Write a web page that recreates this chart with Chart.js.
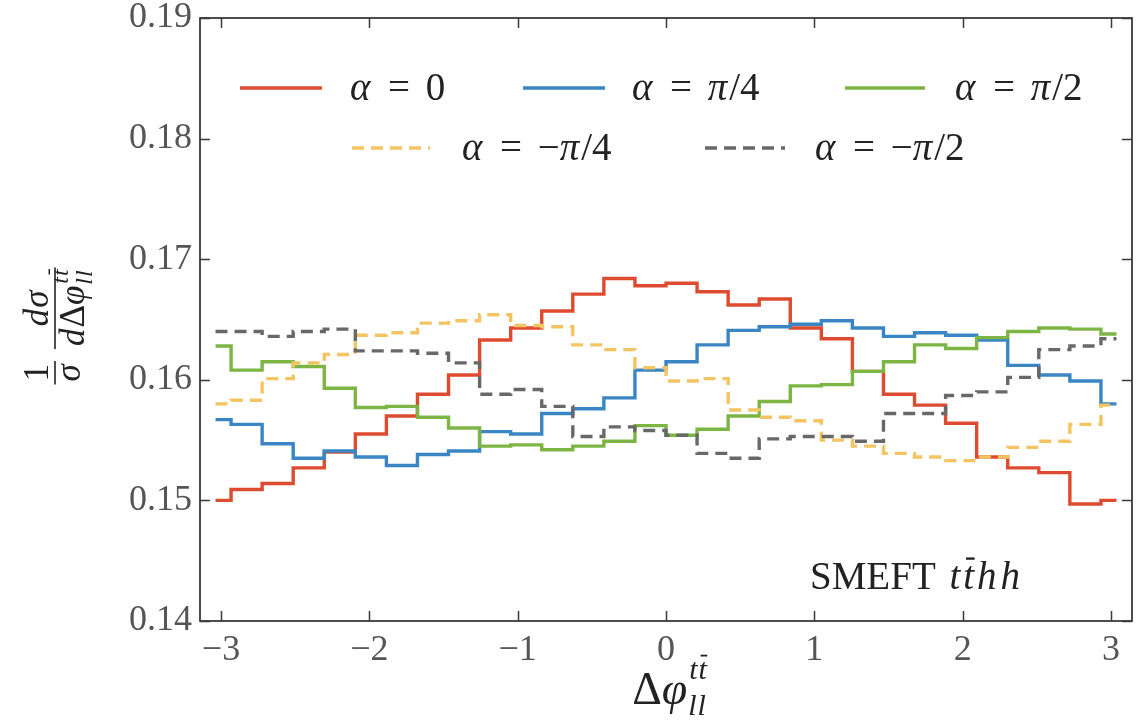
<!DOCTYPE html>
<html><head><meta charset="utf-8">
<script src="https://cdn.jsdelivr.net/npm/chart.js@4.4.0/dist/chart.umd.min.js"></script>
<style>html,body{margin:0;padding:0;background:#fff}#wrap{width:1148px;height:725px}</style>
</head><body><div id="wrap"><canvas id="c" width="1148" height="725"></canvas></div>
<script>
// bin centres of 30 bins in [-pi, pi]
const binCenters = [-3.0369,-2.8274,-2.6180,-2.4086,-2.1991,-1.9897,-1.7802,-1.5708,-1.3614,-1.1519,
  -0.9425,-0.7330,-0.5236,-0.3142,-0.1047,0.1047,0.3142,0.5236,0.7330,0.9425,
  1.1519,1.3614,1.5708,1.7802,1.9897,2.1991,2.4086,2.6180,2.8274,3.0369];
const xTickValues = [-3,-2,-1,0,1,2,3];
const xTickLabels = ['\u22123','\u22122','\u22121','0','1','2','3'];
const yTickValues = [0.14,0.15,0.16,0.17,0.18,0.19];
const yTickLabels = ['0.14','0.15','0.16','0.17','0.18','0.19'];
const seriesLabels = ['\u03b1 = 0','\u03b1 = \u03c0/4','\u03b1 = \u03c0/2','\u03b1 = \u2212\u03c0/4','\u03b1 = \u2212\u03c0/2'];
const alpha0 = [0.1500,0.1509,0.1514,0.1527,0.1540,0.1555,0.1570,0.1588,0.1604,0.1633,0.1643,0.1657,0.1671,0.1684,0.1678,0.1680,0.1673,0.1662,0.1667,0.1643,0.1634,0.1607,0.1588,0.1579,0.1564,0.1536,0.1527,0.1523,0.1497,0.1500];
const alphaPi4 = [0.1567,0.1563,0.1547,0.1535,0.1541,0.1536,0.1529,0.1538,0.1541,0.1557,0.1555,0.1572,0.1576,0.1585,0.1608,0.1615,0.1629,0.1641,0.1644,0.1646,0.1649,0.1643,0.1636,0.1639,0.1637,0.1633,0.1612,0.1604,0.1599,0.1580];
const alphaPi2 = [0.1628,0.1608,0.1615,0.1611,0.1593,0.1577,0.1578,0.1569,0.1560,0.1545,0.1546,0.1542,0.1545,0.1549,0.1562,0.1554,0.1559,0.1570,0.1582,0.1595,0.1596,0.1607,0.1615,0.1629,0.1626,0.1635,0.1640,0.1643,0.1642,0.1638];
const alphaMPi4 = [0.1580,0.1583,0.1601,0.1614,0.1621,0.1637,0.1639,0.1647,0.1649,0.1654,0.1645,0.1644,0.1629,0.1625,0.1610,0.1599,0.1601,0.1575,0.1569,0.1566,0.1550,0.1545,0.1539,0.1536,0.1533,0.1536,0.1544,0.1549,0.1563,0.1579];
const alphaMPi2 = [0.1640,0.1640,0.1636,0.1640,0.1642,0.1624,0.1624,0.1622,0.1614,0.1588,0.1592,0.1578,0.1553,0.1561,0.1558,0.1554,0.1539,0.1535,0.1551,0.1553,0.1553,0.1549,0.1572,0.1572,0.1587,0.1590,0.1602,0.1625,0.1628,0.1634];

const FAM = "'Liberation Serif','DejaVu Serif',serif";
const colors = ['#dd4b30','#3a86c4','#7db545','#f4c462','#686868'];
const dashes = [[],[],[],[12,7],[12,7]];
const allSeries = [alpha0, alphaPi4, alphaPi2, alphaMPi4, alphaMPi2];
const legendPos = [
  {x0:240,x1:322,tx:350,y:88},{x0:523,x1:605,tx:632,y:88},{x0:845,x1:925,tx:955,y:88},
  {x0:352,x1:430,tx:462,y:148},{x0:705,x1:785,tx:815,y:148}];

function drawRuns(ctx, runs, x, y){
  for (const r of runs){
    ctx.font = (r.i ? 'italic ' : '') + r.s + 'px ' + FAM;
    const w = ctx.measureText(r.t).width;
    ctx.fillText(r.t, x, y + (r.dy||0));
    if (r.bar){
      ctx.save(); ctx.lineWidth = Math.max(1.2, r.s*0.06); ctx.strokeStyle = ctx.fillStyle;
      ctx.beginPath(); const by = y + (r.dy||0) - r.s*0.78;
      ctx.moveTo(x + w*0.25, by); ctx.lineTo(x + w*1.05, by); ctx.stroke(); ctx.restore();
    }
    x += w + (r.gap||0);
  }
  return x;
}
function runsWidth(ctx, runs){
  let w = 0;
  for (const r of runs){ ctx.font = (r.i ? 'italic ' : '') + r.s + 'px ' + FAM; w += ctx.measureText(r.t).width + (r.gap||0); }
  return w;
}
function labelRuns(label, size){
  const runs = [];
  for (const ch of label){
    const greek = /[\u03b1-\u03c9]/.test(ch);
    runs.push({t: ch === ' ' ? '\u2009\u2009' : ch, i: greek, s: size, gap: greek ? 2 : 0});
  }
  return runs;
}

const framePlugin = {
  id: 'frame',
  afterDatasetsDraw(chart){
    const {ctx, chartArea: a, scales} = chart;
    ctx.save();
    ctx.strokeStyle = '#3a3a3a'; ctx.lineWidth = 1.8;
    ctx.strokeRect(a.left, a.top, a.right - a.left, a.bottom - a.top);
    ctx.lineWidth = 1.5; ctx.beginPath();
    for (const v of yTickValues){
      const py = Math.round(scales.y.getPixelForValue(v)) + 0.5;
      ctx.moveTo(a.left, py); ctx.lineTo(a.left + 10, py);
      ctx.moveTo(a.right, py); ctx.lineTo(a.right - 10, py);
    }
    for (const v of xTickValues){
      const px = Math.round(scales.x.getPixelForValue(v)) + 0.5;
      ctx.moveTo(px, a.bottom); ctx.lineTo(px, a.bottom - 10);
      ctx.moveTo(px, a.top); ctx.lineTo(px, a.top + 10);
    }
    ctx.stroke();

    // legend
    chart.data.datasets.forEach((ds, i) => {
      const p = legendPos[i];
      ctx.save();
      ctx.strokeStyle = ds.borderColor; ctx.lineWidth = 3.5; ctx.setLineDash(ds.borderDash || []);
      ctx.beginPath(); ctx.moveTo(p.x0, p.y); ctx.lineTo(p.x1, p.y); ctx.stroke();
      ctx.restore();
      ctx.fillStyle = '#222'; ctx.textBaseline = 'alphabetic'; ctx.textAlign = 'left';
      drawRuns(ctx, labelRuns(ds.label, 39), p.tx, p.y + 12);
    });

    // annotation
    ctx.fillStyle = '#222';
    drawRuns(ctx, [{t:'SMEFT ', s:39, gap:4},{t:'t', i:true, s:39, gap:3},{t:'t', i:true, s:39, bar:true, gap:3},{t:'h', i:true, s:39, gap:4},{t:'h', i:true, s:39}], 810, 589);

    // x title
    const baseRuns = [{t:'\u0394', s:46},{t:'\u03c6', i:true, s:46}];
    const bw = runsWidth(ctx, baseRuns);
    const supW = runsWidth(ctx, [{t:'tt', i:true, s:30}]);
    const xs = 668 - (bw + supW)/2;
    const xe = drawRuns(ctx, baseRuns, xs, 704);
    drawRuns(ctx, [{t:'t', i:true, s:30, gap:1},{t:'t', i:true, s:30, bar:true}], xe + 2, 704 - 25);
    drawRuns(ctx, [{t:'l', i:true, s:30, gap:1},{t:'l', i:true, s:30}], xe + 1, 704 + 11);

    // y title (rotated)
    ctx.save();
    ctx.translate(55, 326); ctx.rotate(-Math.PI/2);
    const S = 35;
    const n1 = [{t:'1', s:S}], d1 = [{t:'\u03c3', i:true, s:S}];
    const f1w = Math.max(runsWidth(ctx,n1), runsWidth(ctx,d1)) + 6;
    const n2 = [{t:'d', i:true, s:S, gap:1},{t:'\u03c3', i:true, s:S}];
    const d2 = [{t:'d', i:true, s:S, gap:1},{t:'\u0394', s:S},{t:'\u03c6', i:true, s:S}];
    const d2b = runsWidth(ctx, d2);
    const scW = runsWidth(ctx, [{t:'tt', i:true, s:24}]);
    const f2w = d2b + scW + 8;
    const gap = 12;
    const total = f1w + gap + f2w;
    let u = -total/2;
    ctx.fillStyle = '#222'; ctx.strokeStyle = '#222'; ctx.lineWidth = 1.6;
    ctx.beginPath(); ctx.moveTo(u, 0); ctx.lineTo(u + f1w, 0); ctx.stroke();
    drawRuns(ctx, n1, u + (f1w - runsWidth(ctx,n1))/2, -7);
    drawRuns(ctx, d1, u + (f1w - runsWidth(ctx,d1))/2, 25);
    u += f1w + gap;
    ctx.beginPath(); ctx.moveTo(u, 0); ctx.lineTo(u + f2w, 0); ctx.stroke();
    drawRuns(ctx, n2, u + (f2w - runsWidth(ctx,n2))/2, -7);
    const de = drawRuns(ctx, d2, u + 3, 29);
    drawRuns(ctx, [{t:'t', i:true, s:24, gap:1},{t:'t', i:true, s:24, bar:true}], de + 2, 29 - 16);
    drawRuns(ctx, [{t:'l', i:true, s:24, gap:1},{t:'l', i:true, s:24}], de + 1, 29 + 8);
    ctx.restore();
    ctx.restore();
  }
};

const datasets = allSeries.map((s, i) => ({
  label: seriesLabels[i],
  data: binCenters.map((x, j) => ({x: x, y: s[j]})),
  borderColor: colors[i],
  backgroundColor: colors[i],
  borderWidth: 3.4,
  borderDash: dashes[i],
  stepped: 'middle',
  pointRadius: 0,
  fill: false,
  order: 4 - i
}));

new Chart(document.getElementById('c'), {
  type: 'line',
  data: { datasets },
  options: {
    responsive: false,
    animation: false,
    devicePixelRatio: 1,
    layout: { padding: { top: 18, right: 16, left: 0, bottom: 0 } },
    plugins: { legend: { display: false }, tooltip: { enabled: false } },
    scales: {
      x: {
        type: 'linear', min: -Math.PI, max: Math.PI,
        afterBuildTicks: s => { s.ticks = xTickValues.map(v => ({value: v})); },
        afterFit: s => { s.height = 104; s.paddingLeft = 0; s.paddingRight = 0; },
        ticks: { callback: (v, i) => xTickLabels[i], font: { family: FAM, size: 36 }, color: '#555', padding: 8, maxRotation: 0, autoSkip: false },
        grid: { display: false, drawTicks: false },
        border: { display: false }
      },
      y: {
        type: 'linear', min: 0.14, max: 0.19,
        afterBuildTicks: s => { s.ticks = yTickValues.map(v => ({value: v})); },
        afterFit: s => { s.width = 200; s.paddingTop = 0; s.paddingBottom = 0; },
        ticks: { callback: (v, i) => yTickLabels[i], font: { family: FAM, size: 36 }, color: '#555', padding: 8, autoSkip: false },
        grid: { display: false, drawTicks: false },
        border: { display: false }
      }
    }
  },
  plugins: [framePlugin]
});
</script></body></html>
